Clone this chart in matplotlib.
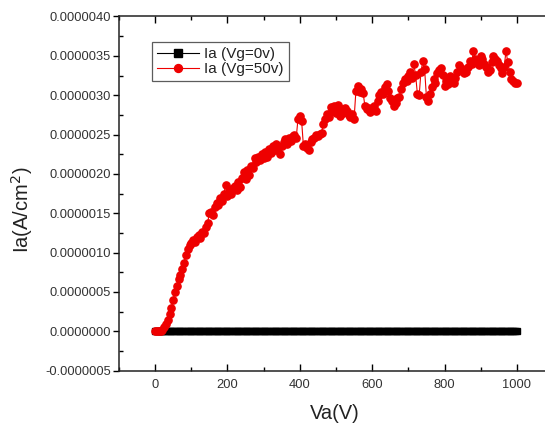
import numpy as np
import matplotlib
matplotlib.use("Agg")
import matplotlib.pyplot as plt
from matplotlib.ticker import FixedLocator, MultipleLocator, FuncFormatter

plt.rcParams['font.family'] = ['Liberation Sans', 'DejaVu Sans']

# Anode voltage sweep (V)
va = np.arange(0, 1001, 5)

# Anode current density, Vg = 0 V (A/cm^2)
ia_vg0 = np.zeros(len(va))

# Anode current density, Vg = 50 V (in units of 1e-6 A/cm^2)
ia_vg50_u = [
    0.00, 0.00, 0.00, 0.00, 0.02, 0.05, 0.09, 0.14, 0.22, 0.30,
    0.40, 0.50, 0.57, 0.66, 0.71, 0.79, 0.87, 0.97, 1.05, 1.10,
    1.12, 1.16, 1.14, 1.20, 1.22, 1.19, 1.26, 1.25, 1.33, 1.38,
    1.50, 1.52, 1.48, 1.58, 1.63, 1.60, 1.70, 1.66, 1.75, 1.86,
    1.72, 1.78, 1.74, 1.82, 1.85, 1.80, 1.90, 1.84, 1.95, 2.02,
    1.93, 2.05, 1.98, 2.10, 2.07, 2.20, 2.15, 2.22, 2.18, 2.25,
    2.20, 2.28, 2.22, 2.32, 2.26, 2.35, 2.30, 2.38, 2.33, 2.25,
    2.36, 2.40, 2.44, 2.38, 2.46, 2.42, 2.48, 2.50, 2.46, 2.70,
    2.74, 2.67, 2.35, 2.38, 2.33, 2.30, 2.40, 2.44, 2.46, 2.50,
    2.48, 2.51, 2.52, 2.64, 2.70, 2.76, 2.72, 2.85, 2.80, 2.86,
    2.78, 2.87, 2.73, 2.82, 2.78, 2.84, 2.80, 2.75, 2.72, 2.76,
    2.70, 3.05, 3.12, 3.04, 3.08, 3.03, 2.86, 2.82, 2.84, 2.79,
    2.81, 2.86, 2.80, 2.92, 3.00, 3.04, 3.02, 3.10, 3.14, 3.05,
    2.96, 2.92, 2.86, 2.90, 2.96, 2.98, 3.08, 3.15, 3.20, 3.18,
    3.25, 3.30, 3.22, 3.40, 3.26, 3.02, 3.00, 3.30, 3.43, 3.33,
    2.98, 2.92, 3.01, 3.10, 3.20, 3.16, 3.28, 3.32, 3.35, 3.26,
    3.12, 3.18, 3.14, 3.24, 3.20, 3.16, 3.22, 3.30, 3.38, 3.34,
    3.32, 3.28, 3.30, 3.36, 3.44, 3.40, 3.56, 3.46, 3.42, 3.38,
    3.50, 3.46, 3.40, 3.36, 3.30, 3.32, 3.42, 3.50, 3.46, 3.43,
    3.38, 3.34, 3.28, 3.36, 3.56, 3.42, 3.30, 3.20, 3.18, 3.16,
    3.15,
]
ia_vg50 = np.array(ia_vg50_u) * 1e-6

series_labels = ['Ia (Vg=0v)', 'Ia (Vg=50v)']
x_ticks = [0, 200, 400, 600, 800, 1000]
y_ticks = [-0.5e-6, 0.0, 0.5e-6, 1.0e-6, 1.5e-6, 2.0e-6, 2.5e-6, 3.0e-6, 3.5e-6, 4.0e-6]

fig = plt.figure(figsize=(5.45, 4.25), dpi=100)
ax = fig.add_axes([0.2183, 0.1278, 0.7964, 0.8334])

red = '#ee0000'
ax.plot(va, ia_vg0, color='black', lw=0.8, marker='s', ms=4.6,
        mec='black', mfc='black', label=series_labels[0])
ax.plot(va, ia_vg50, color=red, lw=0.8, marker='o', ms=5.2,
        mec=red, mfc=red, label=series_labels[1])

ax.set_xlim(-100, 1100)
ax.set_ylim(-0.5e-6, 4.0e-6)

ax.xaxis.set_major_locator(FixedLocator(x_ticks))
ax.xaxis.set_minor_locator(MultipleLocator(100))
ax.yaxis.set_major_locator(FixedLocator(y_ticks))
ax.yaxis.set_minor_locator(MultipleLocator(0.25e-6))
ax.yaxis.set_major_formatter(FuncFormatter(lambda v, p: f'{round(v, 9) + 0.0:.7f}'))

tick_color = '#333333'
ax.tick_params(axis='x', which='major', direction='in', length=5, width=1,
               top=True, labelsize=9.3, labelcolor=tick_color, pad=6)
ax.tick_params(axis='x', which='minor', direction='in', length=3, width=1, top=True)
ax.tick_params(axis='y', which='major', direction='out', length=4, width=1,
               labelsize=9.3, labelcolor=tick_color, pad=2)
ax.tick_params(axis='y', which='minor', direction='in', length=3, width=1)

for s in ax.spines.values():
    s.set_linewidth(1.1)
    s.set_color('#222222')

ax.set_xlabel('Va(V)', fontsize=14.5, color='#222222')
ax.set_ylabel('Ia(A/cm$^2$)', fontsize=14.5, color='#222222')
ax.xaxis.set_label_coords((335 - 119) / 434, -(404 - 370.7) / 354.2)
ax.yaxis.set_label_coords(-(119 - 35) / 434, (370.7 - 210) / 354.2)

leg = ax.legend(loc='upper left', bbox_to_anchor=(0.076, 0.928), borderaxespad=0,
                fontsize=11, frameon=True, fancybox=False, handlelength=2.7,
                borderpad=0.35, labelspacing=0.05, handletextpad=0.35,
                markerscale=1.1)
leg.get_frame().set_edgecolor('#333333')
leg.get_frame().set_linewidth(0.9)
for t in leg.get_texts():
    t.set_color('#222222')

fig.savefig('out.png', dpi=100)
